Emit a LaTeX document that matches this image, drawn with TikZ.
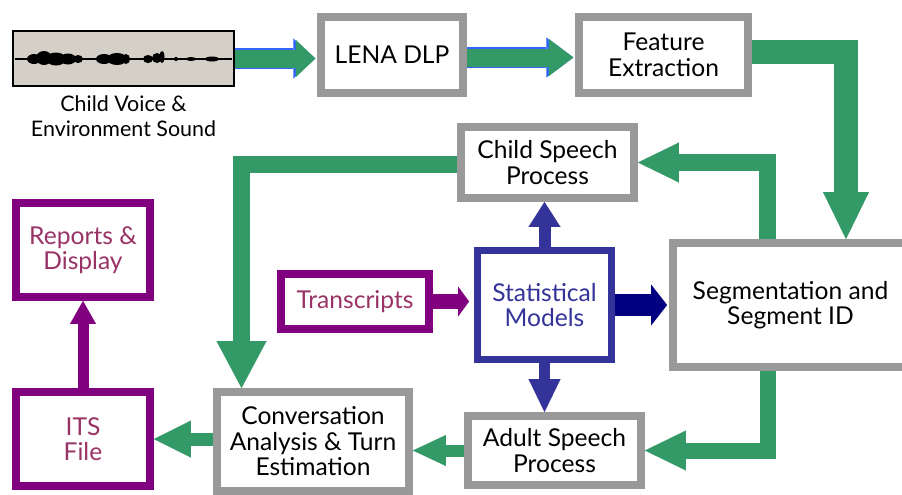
\documentclass[tikz,border=0pt]{standalone}
\usepackage{fontspec}
\setmainfont{Lato}
\usetikzlibrary{arrows.meta,positioning}
\definecolor{lenagreen}{HTML}{339966}
\definecolor{boxgray}{HTML}{999999}
\definecolor{itspurple}{HTML}{800080}
\definecolor{textpurple}{HTML}{993366}
\definecolor{statblue}{HTML}{333399}
\definecolor{statnavy}{HTML}{000080}
\definecolor{edgeblue}{HTML}{3366FF}
\definecolor{wavegray}{HTML}{D4D0C8}
\tikzset{
  boxfont/.style={font=\fontsize{14}{14.5}\selectfont},
  graybox/.style={draw=boxgray, line width=1.6mm, fill=white, align=center, inner sep=0pt, boxfont},
  purplebox/.style={graybox, draw=itspurple, text=textpurple},
  bluebox/.style={graybox, draw=statblue, line width=1.4mm, text=statblue},
  fatarrow/.style n args={3}{line width=#1, -{Triangle[width=#2,length=#3,line width=0.01pt]}},
}

\begin{document}
\begin{tikzpicture}[x=0.02cm,y=-0.02cm]
	\useasboundingbox (0,0) rectangle (902,494);
	\node[draw=black, line width=0.4mm, fill=wavegray, minimum width=44.2mm, minimum height=11mm, inner sep=0pt] (wave) at (123.5,58.5) {};
	\begin{scope}[black]
		\draw[line width=0.3mm] (15,59) -- (232,59);
		\fill (34,59) ellipse [x radius=7, y radius=5];
		\fill (44,58) ellipse [x radius=8, y radius=7];
		\fill (56,59) ellipse [x radius=10, y radius=6.5];
		\fill (68,59) ellipse [x radius=8, y radius=5.5];
		\fill (78,59) ellipse [x radius=5, y radius=4];
		\fill (104,59) ellipse [x radius=8, y radius=5];
		\fill (117,59) ellipse [x radius=10, y radius=6];
		\fill (126,59) ellipse [x radius=4, y radius=5];
		\fill (148,59) ellipse [x radius=5, y radius=4];
		\fill (157,58) ellipse [x radius=5, y radius=5];
		\fill (162,57) ellipse [x radius=2.5, y radius=6];
		\fill (176,59) ellipse [x radius=2, y radius=2.2];
		\fill (191,59) ellipse [x radius=5, y radius=2];
		\fill (212,59) ellipse [x radius=7, y radius=2.5];
	\end{scope}
	\node[below=1.6mm of wave, align=center, font=\fontsize{12.2}{14.6}\selectfont, inner sep=0pt] (wavelabel) {Child Voice \&\\Environment Sound};

	\node[graybox, minimum width=28.4mm, minimum height=15.2mm] (lena) at (392,55) {LENA DLP};
	\node[graybox, minimum width=33.8mm, minimum height=15.2mm] (feat) at (663.5,55) {Feature\\Extraction};
	\node[graybox, minimum width=34.6mm, minimum height=14.2mm] (child) at (547.5,162.5) {Child Speech\\Process};
	\node[graybox, minimum width=47mm, minimum height=24.8mm] (seg) at (790.5,305) {Segmentation and\\Segment ID};
	\node[bluebox, minimum width=26.8mm, minimum height=21.8mm] (stat) at (544.5,305) {Statistical\\Models};
	\node[graybox, minimum width=34.6mm, minimum height=13.8mm] (adult) at (554.5,450.5) {Adult Speech\\Process};
	\node[graybox, minimum width=38.4mm, minimum height=19.8mm] (conv) at (313,441.5) {Conversation\\Analysis \& Turn\\Estimation};
	\node[purplebox, minimum width=26.8mm, minimum height=18.8mm] (its) at (83,439) {ITS\\File};
	\node[purplebox, minimum width=26.8mm, minimum height=18.8mm] (rep) at (83,250) {Reports \&\\Display};
	\node[purplebox, minimum width=29.6mm, minimum height=11mm] (trans) at (355,301.5) {Transcripts};

	\begin{scope}[lenagreen]
		\draw[preaction={draw=edgeblue, fatarrow={4.2mm}{8mm}{4.4mm}}, fatarrow={3.6mm}{7.4mm}{3.9mm}, shorten >=0.35mm] (wave.east) -- (wave.east -| lena.west);
		\draw[preaction={draw=edgeblue, fatarrow={4.2mm}{8mm}{5.4mm}}, fatarrow={3.6mm}{7.4mm}{4.9mm}, shorten >=0.35mm] ([yshift=-0.5mm]lena.east) -- ([yshift=-0.5mm]feat.west);
		\draw[fatarrow={4.8mm}{9.2mm}{9.4mm}] ([yshift=0.7mm]feat.east) -| ([xshift=11.1mm]seg.north);
		\draw[fatarrow={3.4mm}{8mm}{8.2mm}] ([xshift=-4.6mm]seg.north) |- (child.east);
		\draw[fatarrow={3.4mm}{10mm}{9.4mm}] ([yshift=-0.4mm]child.west) -| ([xshift=-14.3mm]conv.north);
		\draw[fatarrow={3.2mm}{8mm}{8.2mm}] ([xshift=-4.6mm]seg.south) |- (adult.east);
		\draw[fatarrow={2.4mm}{6.2mm}{6.6mm}] (adult.west) -- (adult.west -| conv.east);
		\draw[fatarrow={2.6mm}{7.4mm}{7.4mm}] (its.east -| conv.west) -- (its.east);
	\end{scope}
	\draw[itspurple, fatarrow={2.2mm}{5.2mm}{4.6mm}] (its.north) -- (rep.south);
	\draw[itspurple, fatarrow={3mm}{6mm}{2.2mm}, shorten >=1mm] (trans.east) -- (trans.east -| stat.west);
	\draw[statblue, fatarrow={2.4mm}{6.4mm}{5mm}] (stat.north) -- (stat.north |- child.south);
	\draw[statblue, fatarrow={2.2mm}{6.4mm}{6.6mm}] (stat.south) -- (stat.south |- adult.north);
	\draw[statnavy, fatarrow={4.4mm}{8.2mm}{3.2mm}, shorten >=0.4mm] (stat.east) -- (stat.east -| seg.west);
\end{tikzpicture}
\end{document}
